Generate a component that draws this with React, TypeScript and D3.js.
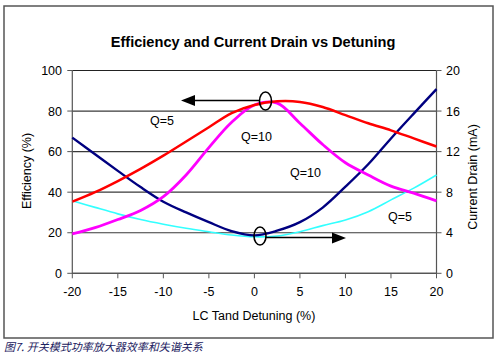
import React from "react";
import * as d3 from "d3";

const detuning = [-20, -17.5, -15, -12.5, -10, -7.5, -5, -2.5, 0, 2.5, 5, 7.5, 10, 12.5, 15, 17.5, 20];
const effQ5 = [35.3, 40, 45.5, 51.5, 58, 65, 72, 79, 83, 84.8, 84.5, 82, 78, 74, 70.5, 66.5, 62.5];
const effQ10 = [19.4, 22.5, 26.5, 31, 37.8, 48.5, 62, 74.5, 83, 83.9, 74, 63.5, 54.5, 48.5, 43, 39.5, 35.7];
const currQ10 = [13.38, 11.74, 10.1, 8.5, 7.06, 6.0, 5.04, 4.16, 3.74, 4.2, 5.04, 6.48, 8.54, 10.75, 13.3, 15.75, 18.16];
const currQ5 = [7.16, 6.5, 5.86, 5.3, 4.84, 4.44, 4.1, 3.78, 3.6, 3.68, 4.1, 4.7, 5.26, 6.08, 7.24, 8.4, 9.7];

const xTicks = [-20, -15, -10, -5, 0, 5, 10, 15, 20];
const effTicks = [0, 20, 40, 60, 80, 100];
const currTicks = [0, 4, 8, 12, 16, 20];

const title = "Efficiency and Current Drain vs Detuning";
const xLabel = "LC Tand Detuning (%)";
const yLabel = "Efficiency (%)";
const y2Label = "Current Drain (mA)";
const caption = "图7. 开关模式功率放大器效率和失谐关系";

const labels = [
  { text: "Q=5", x: 150, y: 125 },
  { text: "Q=10", x: 241, y: 141 },
  { text: "Q=10", x: 290, y: 177 },
  { text: "Q=5", x: 388, y: 221 },
];

export default function App() {
  const W = 500, H = 357;
  const x = d3.scaleLinear().domain([-20, 20]).range([72.3, 436.5]);
  const y = d3.scaleLinear().domain([0, 100]).range([273.3, 70.5]);
  const y2 = d3.scaleLinear().domain([0, 20]).range([273.3, 70.5]);
  const font = "'Liberation Sans', Arial, sans-serif";

  const curve = d3.curveCatmullRom.alpha(0.5);
  const lineEff = d3.line<number>().x((_, i) => x(detuning[i])).y((d) => y(d)).curve(curve);
  const lineCur = d3.line<number>().x((_, i) => x(detuning[i])).y((d) => y2(d)).curve(curve);

  const series = [
    { d: lineCur(currQ5), color: "#33ffff", w: 1.6 },
    { d: lineCur(currQ10), color: "#000080", w: 2.4 },
    { d: lineEff(effQ10), color: "#ff00ff", w: 2.8 },
    { d: lineEff(effQ5), color: "#ff0000", w: 2.5 },
  ];

  return (
    <svg width={W} height={H} style={{ position: "absolute", left: 0, top: 0, background: "#fff" }}>
      <rect x={0} y={0} width={W} height={H} fill="#fff" />
      <rect x={4} y={6} width={489} height={332} fill="none" stroke="#555" strokeWidth={1.5} />
      <text x={253} y={47} textAnchor="middle" fontFamily={font} fontWeight="bold" fontSize={14.6}>{title}</text>

      {effTicks.map((t) => (
        <g key={"g" + t}>
          <line x1={x(-20)} x2={x(20)} y1={y(t)} y2={y(t)} stroke={t === 100 ? "#222" : "#3a3a3a"} strokeWidth={t === 100 ? 1 : 1.2} />
          <line x1={x(-20) - 5} x2={x(-20)} y1={y(t)} y2={y(t)} stroke="#555" />
          <text x={62} y={y(t) + 4.5} textAnchor="end" fontFamily={font} fontSize={12.5}>{t}</text>
        </g>
      ))}
      {currTicks.map((t) => (
        <g key={"c" + t}>
          <line x1={x(20)} x2={x(20) + 5} y1={y2(t)} y2={y2(t)} stroke="#555" />
          <text x={446} y={y2(t) + 4.5} textAnchor="start" fontFamily={font} fontSize={12.5}>{t}</text>
        </g>
      ))}
      <line x1={x(-20)} x2={x(-20)} y1={y(100)} y2={y(0)} stroke="#555" strokeWidth={1.2} />
      <line x1={x(20)} x2={x(20)} y1={y(100)} y2={y(0)} stroke="#555" strokeWidth={1.2} />
      <line x1={x(-20)} x2={x(20)} y1={y(0)} y2={y(0)} stroke="#555" strokeWidth={1.2} />
      {xTicks.map((t) => (
        <g key={"x" + t}>
          <line x1={x(t)} x2={x(t)} y1={y(0)} y2={y(0) + 5} stroke="#555" />
          <text x={x(t)} y={296} textAnchor="middle" fontFamily={font} fontSize={12.5}>{t}</text>
        </g>
      ))}

      {series.map((s, i) => (
        <path key={i} d={s.d || ""} fill="none" stroke={s.color} strokeWidth={s.w} strokeLinejoin="round" />
      ))}

      {labels.map((l, i) => (
        <text key={i} x={l.x} y={l.y} fontFamily={font} fontSize={12.5}>{l.text}</text>
      ))}

      <line x1={192} x2={260} y1={100.5} y2={100.5} stroke="#000" strokeWidth={1.6} />
      <path d="M181,100.5 L195,95 L195,106 Z" fill="#000" />
      <ellipse cx={265.5} cy={101} rx={6} ry={9} fill="none" stroke="#000" strokeWidth={1.6} />

      <line x1={266} x2={334} y1={237.5} y2={237.5} stroke="#000" strokeWidth={1.6} />
      <path d="M346,238 L332,232.5 L332,243.5 Z" fill="#000" />
      <ellipse cx={260} cy={236} rx={6} ry={9} fill="none" stroke="#000" strokeWidth={1.6} />

      <text transform="translate(31,171) rotate(-90)" textAnchor="middle" fontFamily={font} fontSize={12.5}>{yLabel}</text>
      <text transform="translate(477,177) rotate(-90)" textAnchor="middle" fontFamily={font} fontSize={12.5}>{y2Label}</text>
      <text x={254} y={320} textAnchor="middle" fontFamily={font} fontSize={12.5}>{xLabel}</text>

      <text x={4} y={351} fontFamily="'Noto Sans CJK SC', sans-serif" fontStyle="italic" fontSize={11} fill="#1a2060">{caption}</text>
    </svg>
  );
}
